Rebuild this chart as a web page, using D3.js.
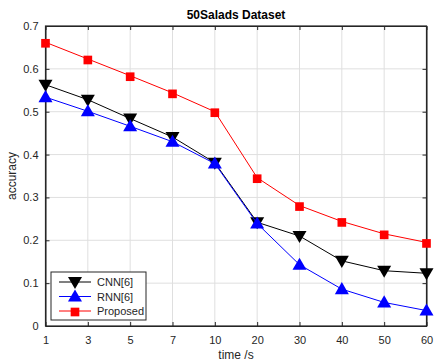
<!DOCTYPE html>
<html><head><meta charset="utf-8">
<script src="https://cdn.jsdelivr.net/npm/d3@7"></script>
<style>body{margin:0;background:#fff}svg{display:block}text{font-family:"Liberation Sans",Arial,sans-serif}</style>
</head><body><div id="c"></div>
<script>
const categories = ["1","3","5","7","10","20","30","40","50","60"];
const cnn = [0.563,0.528,0.484,0.441,0.381,0.242,0.210,0.152,0.129,0.123];
const rnn = [0.534,0.501,0.466,0.430,0.379,0.239,0.143,0.086,0.055,0.036];
const proposed = [0.662,0.623,0.584,0.544,0.500,0.346,0.281,0.244,0.215,0.195];
const yTicks = [0,0.1,0.2,0.3,0.4,0.5,0.6,0.7];
const seriesNames = ["CNN[6]","RNN[6]","Proposed"];

const W=435,H=362, m={l:45.5,r:8.5,t:26,b:36};
const svg=d3.select("#c").append("svg").attr("width",W).attr("height",H);
const x=d3.scalePoint().domain(categories).range([m.l,W-m.r]);
const y=d3.scaleLinear().domain([0,0.7]).range([H-m.b,m.t]);
const g=svg.append("g");
// grid
g.selectAll(".gx").data(categories.slice(1,-1)).join("line")
 .attr("x1",d=>x(d)).attr("x2",d=>x(d)).attr("y1",y(0)).attr("y2",y(0.7))
 .attr("stroke","#dfdfdf").attr("stroke-width",1);
g.selectAll(".gy").data(yTicks.slice(1,-1)).join("line")
 .attr("y1",d=>y(d)).attr("y2",d=>y(d)).attr("x1",x("1")).attr("x2",x("60"))
 .attr("stroke","#dfdfdf").attr("stroke-width",1);
// axes
const ax=d3.axisBottom(x).tickSizeInner(-4).tickSizeOuter(0).tickPadding(10);
const ay=d3.axisLeft(y).tickValues(yTicks).tickFormat(d=>d===0?"0":d3.format(".1f")(d)).tickSizeInner(-4).tickSizeOuter(0).tickPadding(7);
const gx=svg.append("g").attr("transform",`translate(0,${y(0)})`).call(ax);
const gy=svg.append("g").attr("transform",`translate(${x("1")},0)`).call(ay);
const gx2=svg.append("g").attr("transform",`translate(0,${y(0.7)})`).call(d3.axisTop(x).tickSizeInner(-4).tickSizeOuter(0).tickFormat(""));
const gy2=svg.append("g").attr("transform",`translate(${x("60")},0)`).call(d3.axisRight(y).tickValues(yTicks).tickSizeInner(-4).tickSizeOuter(0).tickFormat(""));
[gx,gy,gx2,gy2].forEach(a=>{a.select(".domain").attr("stroke","#262626");a.selectAll(".tick line").attr("stroke","#262626");a.selectAll("text").attr("fill","#262626").attr("font-size",11).attr("font-family","Liberation Sans, Arial, sans-serif");});
svg.append("rect").attr("x",x("1")).attr("y",y(0.7)).attr("width",x("60")-x("1")).attr("height",y(0)-y(0.7)).attr("fill","none").attr("stroke","#262626").attr("stroke-width",1.2);

const series=[{v:cnn,c:"#000000",s:d3.symbolTriangle,rot:180},{v:rnn,c:"#0000ff",s:d3.symbolTriangle,rot:0},{v:proposed,c:"#ff0000",s:d3.symbolSquare,rot:0}];
const line=d3.line().x((d,i)=>x(categories[i])).y(d=>y(d));
series.forEach((sr,k)=>{
 svg.append("path").datum(sr.v).attr("d",line).attr("fill","none").attr("stroke",sr.c).attr("stroke-width",1);
 svg.selectAll(null).data(sr.v).join("path")
  .attr("d",d3.symbol().type(sr.s).size(sr.s===d3.symbolSquare?75:85))
  .attr("transform",(d,i)=>`translate(${x(categories[i])},${y(d)+(sr.rot?-1:1)}) rotate(${sr.rot})`)
  .attr("fill",sr.c);
});
// title & labels
svg.append("text").attr("x",(x("1")+x("60"))/2).attr("y",19).attr("text-anchor","middle").attr("font-weight","bold").attr("font-size",12).attr("fill","#000").text("50Salads Dataset");
svg.append("text").attr("x",(x("1")+x("60"))/2).attr("y",359).attr("text-anchor","middle").attr("font-size",12).attr("fill","#262626").text("time /s");
svg.append("text").attr("transform",`translate(16,${(y(0)+y(0.7))/2}) rotate(-90)`).attr("text-anchor","middle").attr("font-size",12).attr("fill","#262626").text("accuracy");
// legend
const lg=svg.append("g").attr("transform","translate(51,272)");
lg.append("rect").attr("width",95).attr("height",48).attr("fill","#fff").attr("stroke","#262626").attr("stroke-width",1);
series.forEach((sr,k)=>{
 const yy=10+k*14.5;
 lg.append("line").attr("x1",8).attr("x2",40).attr("y1",yy).attr("y2",yy).attr("stroke",sr.c).attr("stroke-width",1);
 lg.append("path").attr("d",d3.symbol().type(sr.s).size(sr.s===d3.symbolSquare?75:85)).attr("transform",`translate(24,${yy+(sr.rot?-1:1)}) rotate(${sr.rot})`).attr("fill",sr.c);
 lg.append("text").attr("x",46).attr("y",yy+4).attr("font-size",11).attr("fill","#262626").text(seriesNames[k]);
});
</script></body></html>
